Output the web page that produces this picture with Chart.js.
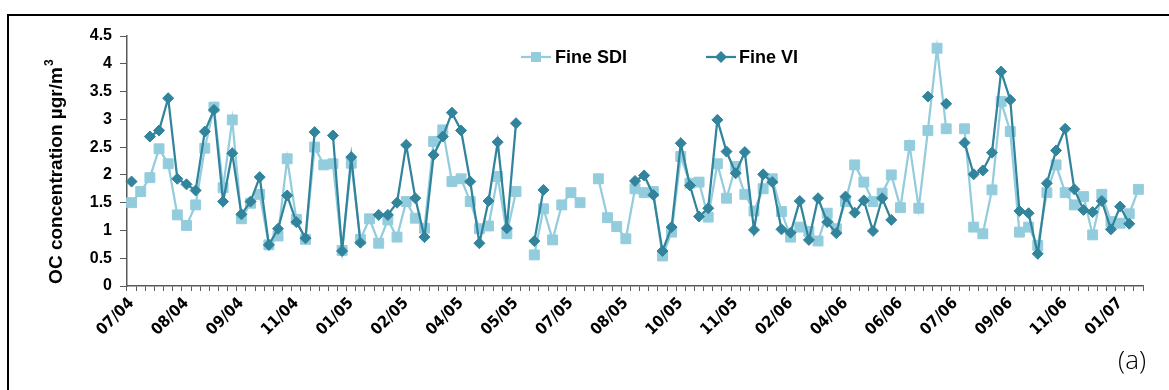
<!DOCTYPE html>
<html>
<head>
<meta charset="utf-8">
<title>OC concentration - Fine SDI / Fine VI</title>
<script src="https://cdn.jsdelivr.net/npm/chart.js@4.4.1/dist/chart.umd.min.js"></script>
<style>
  html, body { margin: 0; padding: 0; background: #fff; }
  #wrap { position: relative; width: 1169px; height: 390px; overflow: hidden; }
  #frame { position: absolute; left: 7px; top: 14px; width: 1200px; height: 420px; border-top: 2px solid #000; border-left: 2px solid #000; }
  #chart { position: absolute; left: 0; top: 0; }
</style>
</head>
<body>
<div id="wrap">
  <div id="frame"></div>
  <canvas id="chart" width="1169" height="390"></canvas>
</div>
<script>
// x axis: one label every 6 samples
const tickLabels = ["07/04", "08/04", "09/04", "11/04", "01/05", "02/05", "04/05", "05/05", "07/05", "08/05",
  "10/05", "11/05", "02/06", "04/06", "06/06", "07/06", "09/06", "11/06", "01/07"];
const labelEvery = 6;

const fineSDI = [
  1.50, 1.70, 1.95, 2.47, 2.20, 1.28, 1.09, 1.46, 2.48, 3.22,
  1.77, 2.99, 1.21, 1.49, 1.65, 0.74, 0.90, 2.29, 1.20, 0.84,
  2.50, 2.18, 2.20, 0.64, 2.21, 0.84, 1.21, 0.77, 1.19, 0.88,
  1.52, 1.22, 1.04, 2.60, 2.81, 1.88, 1.93, 1.52, 1.03, 1.08,
  1.97, 0.94, 1.70, null, 0.56, 1.39, 0.83, 1.46, 1.68, 1.50,
  null, 1.93, 1.23, 1.07, 0.85, 1.75, 1.68, 1.70, 0.54, 0.97,
  2.33, 1.85, 1.87, 1.24, 2.20, 1.58, 2.15, 1.65, 1.35, 1.75,
  1.93, 1.34, 0.88, 1.06, 0.98, 0.81, 1.31, 1.03, 1.52, 2.18,
  1.87, 1.52, 1.67, 2.00, 1.41, 2.53, 1.40, 2.80, 4.28, 2.83,
  null, 2.83, 1.06, 0.94, 1.73, 3.32, 2.78, 0.97, 1.06, 0.73,
  1.68, 2.18, 1.68, 1.46, 1.61, 0.92, 1.65, 1.16, 1.13, 1.30,
  1.74
];

const fineVI = [
  1.88, null, 2.69, 2.80, 3.38, 1.93, 1.83, 1.72, 2.78, 3.17,
  1.52, 2.39, 1.29, 1.52, 1.96, 0.74, 1.03, 1.63, 1.15, 0.86,
  2.77, null, 2.71, 0.63, 2.32, 0.78, null, 1.28, 1.28, 1.50,
  2.54, 1.58, 0.88, 2.36, 2.69, 3.12, 2.80, 1.88, 0.77, 1.53,
  2.59, 1.04, 2.93, null, 0.81, 1.73, null, null, null, null,
  null, null, null, null, null, 1.89, 1.99, 1.64, 0.63, 1.06,
  2.57, 1.81, 1.25, 1.40, 2.99, 2.42, 2.03, 2.41, 1.01, 2.01,
  1.87, 1.02, 0.96, 1.53, 0.83, 1.58, 1.15, 0.95, 1.61, 1.32,
  1.54, 0.99, 1.58, 1.19, null, null, null, 3.41, null, 3.28,
  null, 2.58, 2.01, 2.08, 2.40, 3.86, 3.35, 1.35, 1.31, 0.58,
  1.85, 2.44, 2.83, 1.74, 1.37, 1.33, 1.53, 1.02, 1.43, 1.12,
  null
];

const SDI_COLOR = "#93cddd";
const VI_COLOR = "#31849b";
const AXIS_COLOR = "#595959";
const FONT = "'Liberation Sans', Arial, sans-serif";

const categories = fineSDI.map((_, i) => (i % labelEvery === 0 ? tickLabels[i / labelEvery] : ""));

// title, legend and panel tag drawn straight on the canvas
const overlayText = {
  id: "overlayText",
  afterDraw(chart) {
    const ctx = chart.ctx;
    ctx.save();
    ctx.fillStyle = "#000";

    // y axis title
    ctx.save();
    ctx.translate(57, 172);
    ctx.rotate(-Math.PI / 2);
    ctx.font = "bold 19px " + FONT;
    ctx.textBaseline = "middle";
    ctx.textAlign = "left";
    const main = "OC concentration µgr/m";
    const w = ctx.measureText(main).width;
    const x0 = -(w + 7) / 2;
    ctx.fillText(main, x0, 0);
    ctx.font = "bold 12px " + FONT;
    ctx.fillText("3", x0 + w + 1, -7);
    ctx.restore();

    // legend
    const ly = 57;
    ctx.lineWidth = 2.25;
    ctx.strokeStyle = SDI_COLOR;
    ctx.beginPath();
    ctx.moveTo(521, ly);
    ctx.lineTo(551, ly);
    ctx.stroke();
    ctx.fillStyle = SDI_COLOR;
    ctx.fillRect(531, ly - 5, 10, 10);

    ctx.strokeStyle = VI_COLOR;
    ctx.beginPath();
    ctx.moveTo(706, ly);
    ctx.lineTo(736, ly);
    ctx.stroke();
    ctx.fillStyle = VI_COLOR;
    ctx.beginPath();
    ctx.moveTo(721, ly - 6);
    ctx.lineTo(727, ly);
    ctx.lineTo(721, ly + 6);
    ctx.lineTo(715, ly);
    ctx.closePath();
    ctx.fill();

    ctx.fillStyle = "#000";
    ctx.font = "bold 18px " + FONT;
    ctx.textBaseline = "middle";
    ctx.textAlign = "left";
    ctx.fillText("Fine SDI", 555, ly + 1);
    ctx.fillText("Fine VI", 739, ly + 1);

    // panel tag
    ctx.font = "300 26px 'Open Sans', 'DejaVu Sans', sans-serif";
    ctx.textAlign = "right";
    ctx.fillText("(a)", 1146, 362);
    ctx.restore();
  },
};

new Chart(document.getElementById("chart").getContext("2d"), {
  type: "line",
  data: {
    labels: categories,
    datasets: [
      {
        label: "Fine SDI",
        data: fineSDI,
        order: 2,
        borderColor: SDI_COLOR,
        backgroundColor: SDI_COLOR,
        borderWidth: 2.25,
        pointStyle: "rect",
        pointRadius: 7,
        pointBorderWidth: 1,
        tension: 0,
        spanGaps: false,
      },
      {
        label: "Fine VI",
        data: fineVI,
        order: 1,
        borderColor: VI_COLOR,
        backgroundColor: VI_COLOR,
        borderWidth: 2.25,
        pointStyle: "rectRot",
        pointRadius: 5.5,
        pointBorderWidth: 1,
        tension: 0,
        spanGaps: false,
      },
    ],
  },
  options: {
    responsive: false,
    animation: false,
    layout: { padding: { left: 0, right: 26, top: 36, bottom: 0 } },
    plugins: {
      legend: { display: false },
      tooltip: { enabled: false },
    },
    scales: {
      x: {
        type: "category",
        offset: true,
        grid: {
          offset: true,
          drawOnChartArea: false,
          drawTicks: true,
          tickLength: 5,
          color: AXIS_COLOR,
          lineWidth: 1,
        },
        border: { display: true, color: AXIS_COLOR, width: 1.5 },
        ticks: {
          autoSkip: false,
          minRotation: 45,
          maxRotation: 45,
          padding: 3,
          color: "#000",
          font: { family: "'Liberation Sans Narrow', 'DejaVu Sans Condensed', Arial, sans-serif", size: 16, weight: "bold" },
          callback: (value, index) => categories[index],
        },
        afterFit: (scale) => { scale.height = 104; },
      },
      y: {
        min: 0,
        max: 4.5,
        grid: {
          drawOnChartArea: false,
          drawTicks: true,
          tickLength: 7,
          color: AXIS_COLOR,
        },
        border: { display: true, color: AXIS_COLOR, width: 1.5 },
        ticks: {
          stepSize: 0.5,
          padding: 8,
          color: "#000",
          font: { family: FONT, size: 16, weight: "bold" },
          callback: (value) => String(value),
        },
        afterFit: (scale) => { scale.width = 127; },
      },
    },
  },
  plugins: [overlayText],
});
</script>
</body>
</html>
